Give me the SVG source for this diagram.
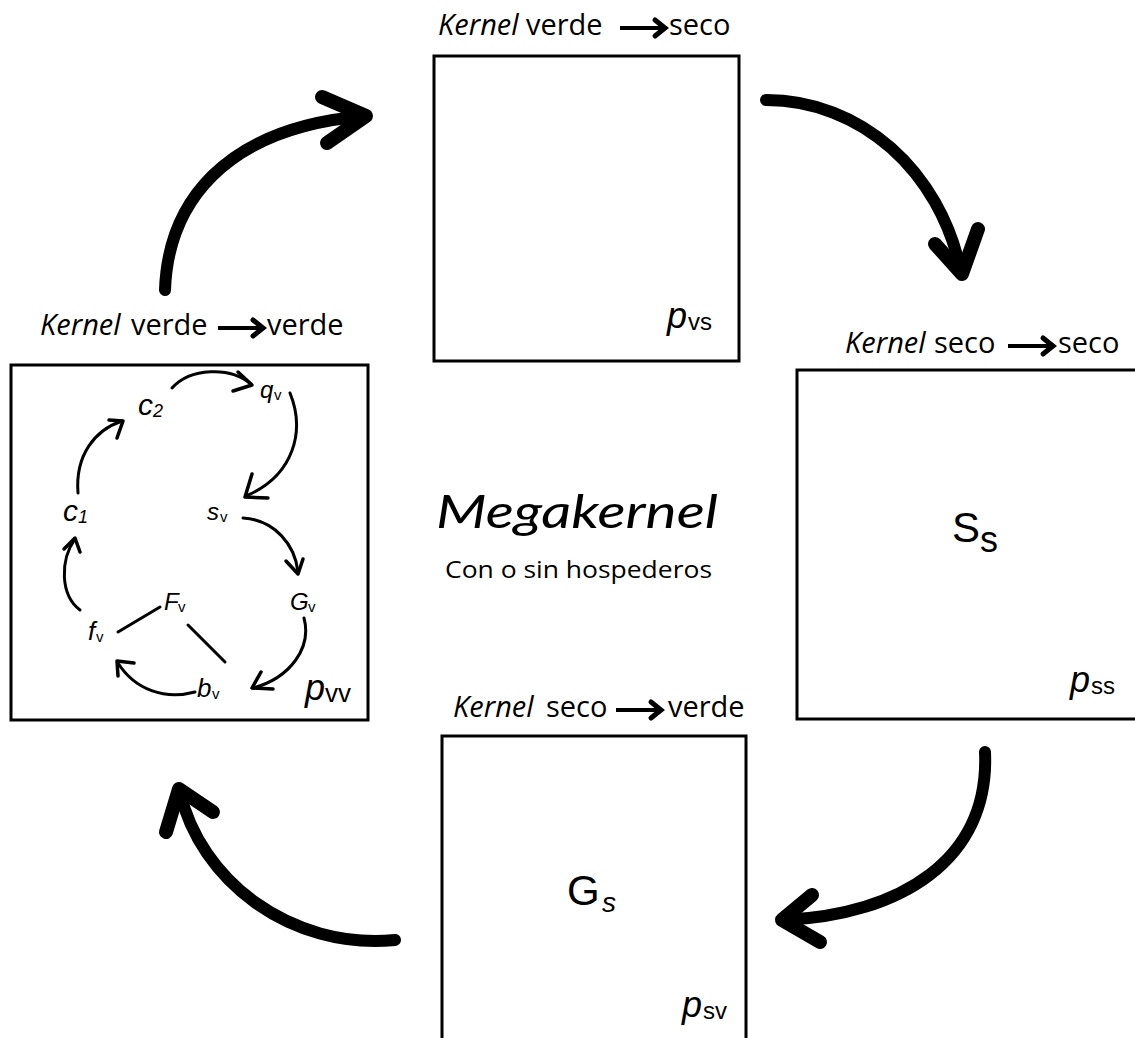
<svg xmlns="http://www.w3.org/2000/svg" width="1135" height="1038" viewBox="0 0 1135 1038">
<style>
.box{fill:none;stroke:#000;stroke-width:3}
.lbl{font-family:"Open Sans","Noto Sans",sans-serif;font-size:29px;fill:#000}
.it{font-style:italic}
.m{font-family:"Liberation Sans",Arial,sans-serif;fill:#000}
.big{fill:none;stroke:#000;stroke-width:12;stroke-linecap:round;stroke-linejoin:round}
.bighd{fill:none;stroke:#000;stroke-width:14;stroke-linecap:round;stroke-linejoin:round}
.sm{fill:none;stroke:#000;stroke-width:3;stroke-linecap:round;stroke-linejoin:round}
.smh{fill:none;stroke:#000;stroke-width:3.5;stroke-linecap:round;stroke-linejoin:round}
</style>
<defs>
<g id="ka">
<path d="M0,0 H42" fill="none" stroke="#000" stroke-width="4"/>
<path d="M35,-8 L45,0 L35,8" fill="none" stroke="#000" stroke-width="5" stroke-linejoin="miter" stroke-linecap="round"/>
</g>
</defs>
<rect width="1135" height="1038" fill="#fff"/>

<g id="connectors">
<path class="big" d="M165,290 C168,205 222,128 365,116"/>
<polyline class="bighd" points="322,97 366,116 327,143"/>
<path class="big" d="M766,100 C860,100 940,170 961,272"/>
<polyline class="bighd" points="935,244 962,274 978,229"/>
<path class="big" d="M985,752 C990,860 900,915 784,920"/>
<polyline class="bighd" points="812,895 782,920 820,942"/>
<path class="big" d="M395,940 C290,950 200,880 180,792"/>
<polyline class="bighd" points="166,832 179,789 213,812"/>
</g>

<g id="node-vs">
<rect class="box" x="434" y="56" width="305" height="305"/>
<text class="lbl" y="35"><tspan class="it" x="438">Kernel</tspan><tspan x="526">verde</tspan><tspan x="669">seco</tspan></text>
<use href="#ka" transform="translate(620,28)"/>
<text class="m" y="328"><tspan x="667" font-size="36" font-style="italic">p</tspan><tspan x="688" y="330" font-size="24">vs</tspan></text>
</g>

<g id="node-ss">
<rect class="box" x="797" y="370" width="345" height="349"/>
<text class="lbl" y="353"><tspan class="it" x="845">Kernel</tspan><tspan x="934">seco</tspan><tspan x="1058">seco</tspan></text>
<use href="#ka" transform="translate(1008,346)"/>
<text class="m" y="542"><tspan x="952" font-size="42">S</tspan><tspan x="980" y="552" font-size="36">s</tspan></text>
<text class="m" y="692"><tspan x="1070" font-size="36" font-style="italic">p</tspan><tspan x="1091" y="694" font-size="24">ss</tspan></text>
</g>

<g id="node-sv">
<rect class="box" x="442" y="736" width="304" height="310"/>
<text class="lbl" y="717"><tspan class="it" x="453">Kernel</tspan><tspan x="546">seco</tspan><tspan x="668">verde</tspan></text>
<use href="#ka" transform="translate(616,710)"/>
<text class="m" y="905"><tspan x="567" font-size="42">G</tspan><tspan x="602" y="912" font-size="28" font-style="italic">s</tspan></text>
<text class="m" y="1017"><tspan x="682" font-size="36" font-style="italic">p</tspan><tspan x="703" y="1019" font-size="24">sv</tspan></text>
</g>

<g id="node-vv">
<rect class="box" x="11" y="365" width="357" height="355"/>
<text class="lbl" y="335"><tspan class="it" x="40">Kernel</tspan><tspan x="131">verde</tspan><tspan x="267">verde</tspan></text>
<use href="#ka" transform="translate(218,328)"/>
<text class="m" y="700"><tspan x="305" font-size="36" font-style="italic">p</tspan><tspan x="325" y="702" font-size="26">vv</tspan></text>
</g>

<g id="center">
<text x="436" y="528" font-family="Lato,'Noto Sans',sans-serif" font-style="italic" font-size="47" textLength="282" lengthAdjust="spacingAndGlyphs">Megakernel</text>
<text x="445" y="578" font-family="'Open Sans','Noto Sans',sans-serif" font-size="24" textLength="267" lengthAdjust="spacingAndGlyphs">Con o sin hospederos</text>
</g>

<g id="inner-nodes">
<g id="n-c2"><text class="m" y="415"><tspan x="138" font-size="30" font-style="italic">c</tspan><tspan x="153" y="417" font-size="18" font-style="italic">2</tspan></text></g>
<g id="n-qv"><text class="m" y="398"><tspan x="260" font-size="24" font-style="italic">q</tspan><tspan x="274" y="400" font-size="15">v</tspan></text></g>
<g id="n-c1"><text class="m" y="521"><tspan x="63" font-size="30" font-style="italic">c</tspan><tspan x="78" y="523" font-size="18" font-style="italic">1</tspan></text></g>
<g id="n-sv"><text class="m" y="520"><tspan x="207" font-size="24" font-style="italic">s</tspan><tspan x="220" y="522" font-size="15">v</tspan></text></g>
<g id="n-Gv"><text class="m" y="610"><tspan x="290" font-size="24" font-style="italic">G</tspan><tspan x="308" y="612" font-size="15">v</tspan></text></g>
<g id="n-Fv"><text class="m" y="610"><tspan x="164" font-size="24" font-style="italic">F</tspan><tspan x="178" y="612" font-size="15">v</tspan></text></g>
<g id="n-fv"><text class="m" y="640"><tspan x="88" font-size="26" font-style="italic">f</tspan><tspan x="96" y="642" font-size="15">v</tspan></text></g>
<g id="n-bv"><text class="m" y="697"><tspan x="197" font-size="26" font-style="italic">b</tspan><tspan x="212" y="699" font-size="15">v</tspan></text></g>
</g>

<g id="inner-connectors">
<path class="sm" d="M172,388 C190,368 230,366 251,384"/>
<polyline class="smh" points="238,372 252,385 233,391"/>
<path class="sm" stroke-width="4" d="M290,393 C305,430 295,475 246,496"/>
<polyline class="smh" stroke-width="4.5" points="252,474 245,497 268,498"/>
<path class="sm" d="M243,518 C275,520 295,545 298,572"/>
<polyline class="smh" points="286,561 298,574 303,559"/>
<path class="sm" d="M304,618 C312,648 290,678 253,688"/>
<polyline class="smh" points="261,672 252,688 273,689"/>
<path class="sm" d="M195,692 C165,700 135,690 118,663"/>
<polyline class="smh" points="118,676 117,661 134,663"/>
<path class="sm" d="M80,610 C60,595 60,560 75,539"/>
<polyline class="smh" points="64,549 75,538 80,552"/>
<path class="sm" d="M78,493 C75,455 95,430 122,421"/>
<polyline class="smh" points="109,420 123,421 117,438"/>
<path class="sm" d="M118,632 L160,607"/>
<path class="sm" d="M188,625 L225,662"/>
</g>
</svg>
